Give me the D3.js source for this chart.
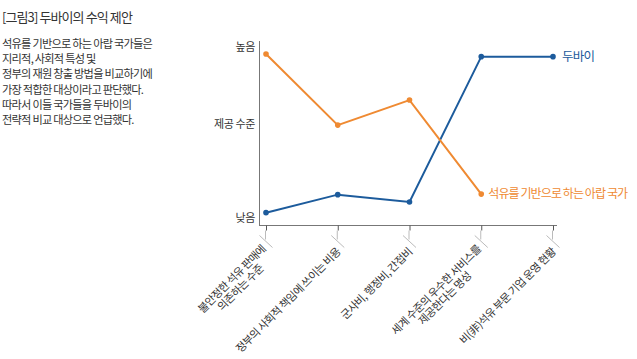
<!DOCTYPE html>
<html><head><meta charset="utf-8">
<script src="https://cdn.jsdelivr.net/npm/d3@7"></script>
<style>
body{margin:0;background:#fff;}
svg text{font-family:"Noto Sans CJK KR","Noto Sans",sans-serif;}
</style></head>
<body><svg id="c" width="637" height="359"></svg>
<script>
const categories = [
  ["불안정한 석유 판매에", "의존하는 수준"],
  ["정부의 사회적 책임에 쓰이는 비용"],
  ["군사비, 행정비, 간접비"],
  ["세계 수준의 우수한 서비스를", "제공한다는 명성"],
  ["비(非)석유 부문 기업 운영 현황"]
];
const dubai = [6.7, 16.5, 12.5, 91.5, 91.5];
const arab = [92.9, 54.3, 67.9, 16.8];
const yTickValues = [4, 55, 97];
const yTickLabels = ["낮음", "제공 수준", "높음"];
const seriesNames = ["두바이", "석유를 기반으로 하는 아랍 국가"];
const title = "[그림3] 두바이의 수익 제안";
const bodyLines = [
  "석유를 기반으로 하는 아랍 국가들은",
  "지리적, 사회적 특성 및",
  "정부의 재원 창출 방법을 비교하기에",
  "가장 적합한 대상이라고 판단했다.",
  "따라서 이들 국가들을 두바이의",
  "전략적 비교 대상으로 언급했다."
];

const svg = d3.select("#c");
const blue = "#1c5b9c", orange = "#ef8a32";

svg.append("text").attr("x", 2).attr("y", 22).attr("font-size", 13).attr("fill", "#333")
  .attr("letter-spacing", -0.9).text(title);
svg.append("g").selectAll("text").data(bodyLines).join("text")
  .attr("x", 2).attr("y", (d, i) => 48 + i * 15.2).attr("font-size", 11.2)
  .attr("letter-spacing", -0.75).attr("fill", "#333").text(d => d);

const x = d3.scalePoint().domain(d3.range(categories.length)).range([266, 553]);
const y = d3.scaleLinear().domain([0, 100]).range([225, 41]);

// axes
const axisColor = "#777";
svg.append("line").attr("x1", 259.5).attr("x2", 259.5).attr("y1", 41).attr("y2", 225.5).attr("stroke", axisColor);
svg.append("line").attr("x1", 259).attr("x2", 557).attr("y1", 225.5).attr("y2", 225.5).attr("stroke", axisColor);

const yAxis = d3.axisLeft(y).tickValues(yTickValues).tickSize(0).tickPadding(4)
  .tickFormat((d, i) => yTickLabels[i]);
const gy = svg.append("g").attr("transform", "translate(259,0)").call(yAxis);
gy.select(".domain").remove();
gy.selectAll("text").attr("font-size", 11).attr("fill", "#333").attr("letter-spacing", -0.4)
  .attr("font-family", '"Noto Sans CJK KR",sans-serif');

const xAxis = d3.axisBottom(x).tickSize(5).tickFormat("");
const gx = svg.append("g").attr("transform", "translate(0,225.5)").call(xAxis);
gx.select(".domain").remove();
gx.selectAll(".tick line").attr("stroke", "#555");

const ticks = svg.append("g").selectAll("g").data(categories).join("g")
  .attr("transform", (d, i) => `translate(${x(i) - 0.5},225.5)`);
ticks.append("line").attr("x1", 0).attr("x2", 0).attr("y1", 5).attr("y2", 14).attr("stroke", "#bbb");
ticks.append("line").attr("x1", -6).attr("y1", 10).attr("x2", 7).attr("y2", 22).attr("stroke", "#bbb");
const lab = ticks.append("text").attr("transform", "translate(4,27) rotate(-45)")
  .attr("font-size", 11).attr("fill", "#333").attr("letter-spacing", -0.5);
lab.each(function(d) {
  const t = d3.select(this);
  if (d.length === 1) {
    t.append("tspan").attr("x", 0).attr("y", 0).attr("text-anchor", "end").text(d[0]);
  } else {
    const t1 = t.append("tspan").attr("x", 0).attr("y", -4).attr("text-anchor", "end").text(d[0]);
    const w = t1.node().getComputedTextLength();
    t.append("tspan").attr("x", -w / 2).attr("y", 8).attr("text-anchor", "middle").text(d[1]);
  }
});

const line = d3.line().x((d, i) => x(i)).y(d => y(d));
[[dubai, blue], [arab, orange]].forEach(([data, col]) => {
  svg.append("path").datum(data).attr("d", line).attr("fill", "none")
    .attr("stroke", col).attr("stroke-width", 2);
  svg.append("g").selectAll("circle").data(data).join("circle")
    .attr("cx", (d, i) => x(i)).attr("cy", d => y(d)).attr("r", 2.8).attr("fill", col);
});

svg.append("text").attr("x", x(4) + 9).attr("y", y(dubai[4])).attr("dy", "0.35em")
  .attr("font-size", 12.5).attr("fill", blue).attr("letter-spacing", -0.8).text(seriesNames[0]);
svg.append("text").attr("x", x(3) + 7).attr("y", y(arab[3])).attr("dy", "0.35em")
  .attr("font-size", 12).attr("fill", orange).attr("letter-spacing", -0.9).text(seriesNames[1]);
</script></body></html>
